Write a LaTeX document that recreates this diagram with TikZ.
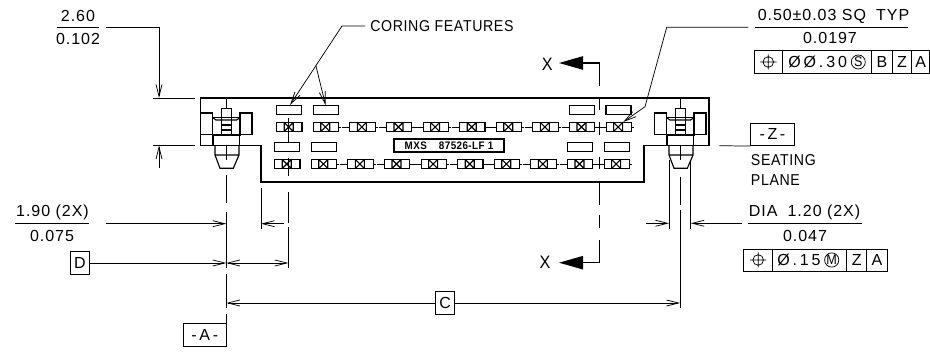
\documentclass[tikz,border=0pt]{standalone}
\usepackage{fontspec}
\setmainfont{Liberation Sans}[FakeStretch=0.9,LetterSpace=4]
\newfontfamily\numfont{Liberation Sans}[LetterSpace=6]
\newfontfamily\tolfont{Liberation Sans}[LetterSpace=18]
\usetikzlibrary{arrows.meta}
\newcommand{\cadsize}{\fontsize{11.8}{13}\selectfont}
\tikzset{
  outline/.style={line width=0.85pt,line join=miter},
  thinline/.style={line width=0.55pt},
  dimarrow/.style={thinline,-{Straight Barb[length=9pt,width=4.5pt]}},
  sectionarrow/.style={line width=0.9pt,-{Triangle[length=18pt,width=10pt]}},
  cadtext/.style={font=\cadsize,inner sep=0pt},
  numtext/.style={font=\fontsize{12}{13}\selectfont\numfont,inner sep=0pt},
  labeltext/.style={font=\fontsize{8.2}{9}\selectfont\bfseries,inner sep=0pt},
  datumbox/.style={draw,thinline,numtext,minimum height=17pt},
  framecell/.style={thinline},
  framefill/.style={font=\fontsize{12}{13}\selectfont\numfont,inner sep=0pt},
  tolfill/.style={font=\fontsize{12}{13}\selectfont\tolfont,inner sep=0pt},
  circled/.style={draw,circle,thinline,minimum size=10.5pt,inner sep=0pt,font=\fontsize{10.5}{10}\selectfont}
}
\begin{document}
\begin{tikzpicture}[x=0.75pt,y=-0.75pt]
\useasboundingbox (0,0) rectangle (930,352);
%% connector body
\draw[outline] (200.5,98) -- (709,98) -- (709,145.5) -- (644,145.5) -- (644,182)
  -- (261,182) -- (261,145.5) -- (200.5,145.5) -- cycle;
%% coring features
\foreach \xa/\ya in {276.7/105.7, 313.7/105.7, 569.3/105.7, 606/105.7,
  274.7/142.7, 311.7/142.7, 567.7/142.7, 604.3/142.7}
{
  \draw[outline] (\xa,\ya) rectangle ++(25,8.6);
}
%% contacts
\foreach \rowx/\rowy in {276.7/127, 274.7/164}
{
  \foreach \n in {0,...,9}
  {
    \pgfmathsetmacro{\cx}{\rowx+36.6*\n}
    \draw[outline] (\cx,\rowy-4.5) rectangle ++(25.3,9);
    \draw[outline] (\cx+7.5,\rowy-4.5) -- (\cx+7.5,\rowy+4.5)
      (\cx+16.5,\rowy-4.5) -- (\cx+16.5,\rowy+4.5)
      (\cx+7.5,\rowy-4.5) -- (\cx+16.5,\rowy+4.5)
      (\cx+16.5,\rowy-4.5) -- (\cx+7.5,\rowy+4.5);
    \ifnum\n>1
      \draw[thinline] (\cx-8,\rowy) -- (\cx,\rowy);
    \fi
    \ifnum\n>0
      \draw[thinline] (\cx+25.3,\rowy) -- (\cx+28,\rowy);
    \fi
  }
}
%% pins
\foreach \pinx in {226,680}
{
  \begin{scope}[xshift=\pinx*0.75pt]
    \draw[outline] (-25.3,113) rectangle (-13.3,134.3);
    \draw[outline] (14,113) rectangle (26,134.3);
    \draw[outline] (-13.3,117.7) rectangle (14,135);
    \draw[outline] (-4.3,108.3) rectangle (5.7,135);
    \draw[outline] (-13,135) rectangle (13.3,145.5);
    \draw[outline] (-13.3,117.7) -- (-10,120) -- (10.5,120) -- (14,117.7);
    \draw[outline] (-4.3,125) -- (5.7,125) (-4.3,130) -- (5.7,130);
    \draw[outline] (-11,145.5) -- (-11,155) -- (-6,168.3) -- (7.3,168.3)
      -- (13,155) -- (13,145.5) (-11,155) -- (13,155);
    \draw[thinline] (0,98) -- (0,108.3) (0,145.5) -- (0,160);
  \end{scope}
}
%% centre and extension lines
\draw[thinline] (226.3,175) -- (226.3,203) (226.3,212) -- (226.3,268)
  (226.3,274) -- (226.3,308) (226.3,314) -- (226.3,346);
\draw[thinline] (680,177) -- (680,205) (680,210) -- (680,308);
\draw[thinline] (669,160) -- (669,229) (690.7,160) -- (690.7,229);
\draw[thinline] (261,188) -- (261,229);
\draw[thinline] (288.3,118) -- (288.3,143) (288.3,158) -- (288.3,176)
  (288.3,192) -- (288.3,223) (288.3,227) -- (288.3,268);
\draw[thinline] (599.3,98) -- (599.3,110) (599.3,121.7) -- (599.3,135)
  (599.3,156.7) -- (599.3,169) (599.3,182) -- (599.3,205)
  (599.3,215) -- (599.3,228.3);
%% section arrows
\node[numtext,font=\fontsize{13.5}{14}\selectfont] (xtop) at (547.3,64) {X};
\node[numtext,font=\fontsize{13.5}{14}\selectfont] (xbottom) at (545,262.7) {X};
\coordinate (xtopcorner) at (599.3,63);
\coordinate (xbottomcorner) at (599.3,262.7);
\draw[sectionarrow] (599.3,85.7) -- (xtopcorner) -- (559,63);
\draw[sectionarrow] (599.3,240) -- (xbottomcorner) -- (559,262.7);
%% marking
\node[draw,outline,labeltext,minimum width=82.5pt,minimum height=9.7pt] (marking)
  at (449,145.5) {MXS\hspace{1.1em}87526-LF 1\hspace{7pt}};
%% top left dimension
\node[numtext] (heightmm) at (78,16) {2.60};
\node[numtext] (heightin) at (78,39.3) {0.102};
\coordinate (heightrule) at (99,27.3);
\draw[thinline] (57,27.3) -- (heightrule);
\coordinate (heightbend) at (159,27.3);
\draw[dimarrow] (105.7,27.3) -- (heightbend) -- (159,98);
\draw[dimarrow] (159,168) -- (159,145.5);
\draw[thinline] (153,98) -- (195,98) (153,145.5) -- (195,145.5);
%% coring label
\node[cadtext,anchor=west] (coring) at (370,26) {CORING FEATURES};
\coordinate (coringbend) at (342,26);
\coordinate (coringfork) at (316,66);
\draw[dimarrow] (coring.west) ++(-5,0) -- (coringbend) -- (290,105);
\draw[dimarrow] (coringfork) -- (325.5,105);
%% 1.90 dimension
\node[numtext] (pitchmm) at (52.5,212.5) {1.90 (2X)};
\node[numtext] (pitchin) at (52,235.7) {0.075};
\draw[thinline] (15,223.7) -- (89,223.7);
\draw[dimarrow] (105.7,223.7) -- (226.3,223.7);
\draw[dimarrow] (284,223.7) -- (261,223.7);
%% datums and basic dimensions
\node[datumbox,minimum width=14.25pt] (datumD) at (79.8,263) {D};
\draw[dimarrow] (datumD.east) -- (226.3,263);
\draw[thinline,{Straight Barb[length=9pt,width=4.5pt]}-{Straight Barb[length=9pt,width=4.5pt]}]
  (226.3,263) -- (288.3,263);
\node[datumbox,minimum width=14.25pt] (datumC) at (445.2,303) {C};
\draw[dimarrow] (datumC.west) -- (226.3,303);
\draw[dimarrow] (datumC.east) -- (680,303);
\node[datumbox,minimum width=32.4pt] (datumA) at (204.8,334.7) {-\,A\,-};
\node[datumbox,minimum width=32.4pt] (datumZ) at (772.4,134.4) {-\,Z\,-};
\draw[thinline] (719.3,145.7) -- (datumZ.south west);
\node[cadtext,anchor=west] (seating) at (750.7,160) {SEATING};
\node[cadtext,anchor=west] (plane) at (750.7,180) {PLANE};
%% dia dimension
\node[numtext] (diamm) at (804.5,212.5) {DIA\hspace{0.3em} 1.20 (2X)};
\node[numtext] (diain) at (805,235.7) {0.047};
\draw[thinline] (747.7,223.3) -- (861.7,223.3);
\draw[dimarrow] (646,223.3) -- (669,223.3);
\draw[dimarrow] (741.7,223.3) -- (690.7,223.3);
\foreach \xa/\xb/\cell in {743.7/772.7/{}, 772.7/846.7/{}, 846.7/866.7/Z, 866.7/887.3/A}
{
  \draw[framecell] (\xa,249) rectangle (\xb,271) node[midway,framefill] {\cell};
}
\node[tolfill,anchor=west] (tolsmall) at (777,260) {Ø.15};
\node[circled] (mmc) at (831.7,260) {M};
\draw[thinline] (758.2,260) circle[radius=5.3] (750,260) -- (766.4,260) (758.2,252.5) -- (758.2,267.5);
%% pad dimension
\node[numtext] (padmm) at (833.5,16) {0.50±0.03 SQ\hspace{0.3em} TYP};
\node[numtext] (padin) at (830,38.3) {0.0197};
\draw[thinline] (755,27.3) -- (908,27.3);
\coordinate (padbend) at (666.7,27.3);
\coordinate (padknee) at (645,106.7);
\draw[dimarrow] (748.3,27.3) -- (padbend) -- (padknee) -- (623.3,122);
\foreach \xa/\xb/\cell in {754.3/782.3/{}, 782.3/871.7/{}, 871.7/892.3/B, 892.3/911.7/Z, 911.7/929.5/A}
{
  \draw[framecell] (\xa,50.7) rectangle (\xb,73.3) node[midway,framefill] {\cell};
}
\node[tolfill,anchor=west] (tolbig) at (788,62) {ØØ.30};
\node[circled] (rfs) at (858.3,62) {S};
\draw[thinline] (768.3,62) circle[radius=5.3] (760,62) -- (776.5,62) (768.3,54.5) -- (768.3,69.5);
\end{tikzpicture}
\end{document}
